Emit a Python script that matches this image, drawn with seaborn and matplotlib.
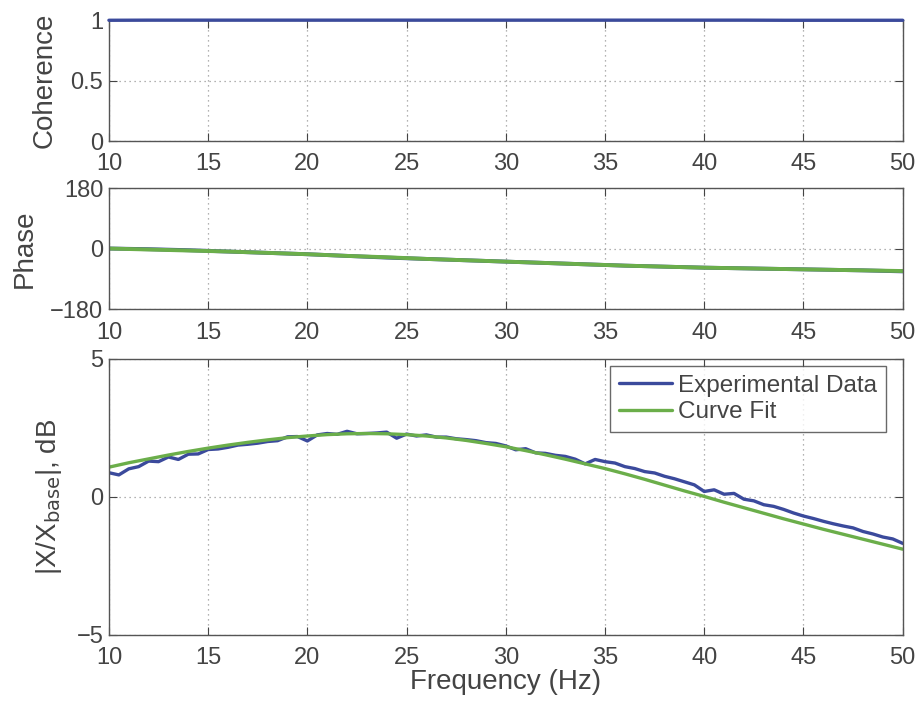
import matplotlib
matplotlib.use("Agg")
import matplotlib.pyplot as plt
import seaborn as sns
import pandas as pd

# coherence (experimental only)
freq_coh = [10, 12, 14, 16, 18, 20, 22, 24, 26, 28, 30, 32, 34, 36, 38, 40, 42, 44, 46, 48, 50]
coherence = [0.998, 0.999, 0.999, 0.999, 0.999, 0.999, 0.999, 0.999, 0.999, 0.999, 0.999,
             0.999, 0.999, 0.999, 0.999, 0.999, 0.999, 0.998, 0.998, 0.998, 0.998]

# phase, deg
freq_ph = [10, 12, 14, 16, 18, 20, 22, 24, 26, 28, 30, 32, 34, 36, 38, 40, 42, 44, 46, 48, 50]
phase_exp = [0, -2, -5, -9, -13, -17, -22, -27, -31, -35, -39, -43, -47, -51, -54, -57, -59, -61, -63, -65, -68]
phase_fit = [0, -3, -6, -9, -13, -17, -22, -26, -31, -35, -39, -43, -47, -51, -54, -57, -59, -61, -63, -65, -67]

# magnitude, dB
freq_exp = [10.0, 10.5, 11.0, 11.5, 12.0, 12.5, 13.0, 13.5, 14.0, 14.5,
            15.0, 15.5, 16.0, 16.5, 17.0, 17.5, 18.0, 18.5, 19.0, 19.5,
            20.0, 20.5, 21.0, 21.5, 22.0, 22.5, 23.0, 23.5, 24.0, 24.5,
            25.0, 25.5, 26.0, 26.5, 27.0, 27.5, 28.0, 28.5, 29.0, 29.5,
            30.0, 30.5, 31.0, 31.5, 32.0, 32.5, 33.0, 33.5, 34.0, 34.5,
            35.0, 35.5, 36.0, 36.5, 37.0, 37.5, 38.0, 38.5, 39.0, 39.5,
            40.0, 40.5, 41.0, 41.5, 42.0, 42.5, 43.0, 43.5, 44.0, 44.5,
            45.0, 45.5, 46.0, 46.5, 47.0, 47.5, 48.0, 48.5, 49.0, 49.5, 50.0]
mag_exp = [0.88, 0.80, 1.02, 1.10, 1.30, 1.28, 1.45, 1.36, 1.55, 1.56,
           1.72, 1.74, 1.80, 1.88, 1.91, 1.95, 2.01, 2.04, 2.18, 2.19,
           2.03, 2.25, 2.30, 2.27, 2.38, 2.29, 2.30, 2.32, 2.35, 2.13,
           2.28, 2.21, 2.25, 2.17, 2.17, 2.11, 2.08, 2.04, 1.97, 1.94,
           1.85, 1.71, 1.75, 1.60, 1.58, 1.51, 1.47, 1.37, 1.20, 1.36,
           1.28, 1.23, 1.10, 1.03, 0.92, 0.87, 0.75, 0.66, 0.55, 0.44,
           0.20, 0.26, 0.10, 0.13, -0.08, -0.14, -0.28, -0.34, -0.45, -0.58,
           -0.69, -0.78, -0.88, -0.97, -1.05, -1.12, -1.25, -1.34, -1.45, -1.52, -1.68]

freq_fit = [10, 11, 12, 13, 14, 15, 16, 17, 18, 19, 20, 21, 22, 23, 24, 25, 26, 27, 28, 29,
            30, 31, 32, 33, 34, 35, 36, 37, 38, 39, 40, 41, 42, 43, 44, 45, 46, 47, 48, 49, 50]
mag_fit = [1.08, 1.24, 1.38, 1.52, 1.65, 1.77, 1.88, 1.98, 2.07, 2.15, 2.21, 2.26, 2.29, 2.30,
           2.29, 2.26, 2.21, 2.14, 2.05, 1.94, 1.82, 1.68, 1.53, 1.37, 1.20, 1.03, 0.84, 0.64,
           0.43, 0.22, 0.02, -0.19, -0.39, -0.59, -0.79, -0.98, -1.17, -1.35, -1.53, -1.71, -1.89]

blue = "#3b4a9c"
green = "#6bae4a"
grey = "#444444"

sns.set_style("ticks")
plt.rcParams["font.family"] = ["Liberation Sans", "DejaVu Sans"]
plt.rcParams.update({
    "text.color": grey, "axes.labelcolor": grey,
    "xtick.color": grey, "ytick.color": grey,
    "axes.edgecolor": "#555555", "axes.linewidth": 1.0,
    "xtick.direction": "in", "ytick.direction": "in",
    "xtick.top": True, "ytick.right": True,
    "xtick.major.size": 6, "ytick.major.size": 6,
})

fig = plt.figure(figsize=(9.23, 7.05), dpi=100)
ax1 = fig.add_axes([0.118, 0.800, 0.860, 0.1716])
ax2 = fig.add_axes([0.118, 0.5617, 0.860, 0.1716])
ax3 = fig.add_axes([0.118, 0.0993, 0.860, 0.3915])

coh = pd.DataFrame({"f": freq_coh, "c": coherence})
sns.lineplot(data=coh, x="f", y="c", ax=ax1, color=blue, linewidth=2.4, clip_on=False, zorder=5)

ph = pd.DataFrame({"f": freq_ph, "exp": phase_exp, "fit": phase_fit})
sns.lineplot(data=ph, x="f", y="exp", ax=ax2, color=blue, linewidth=2.8)
sns.lineplot(data=ph, x="f", y="fit", ax=ax2, color=green, linewidth=2.8)

me = pd.DataFrame({"f": freq_exp, "m": mag_exp})
mf = pd.DataFrame({"f": freq_fit, "m": mag_fit})
sns.lineplot(data=me, x="f", y="m", ax=ax3, color=blue, linewidth=2.4, label="Experimental Data")
sns.lineplot(data=mf, x="f", y="m", ax=ax3, color=green, linewidth=2.4, label="Curve Fit")

settings = [
    (ax1, (0, 1), [0, 0.5, 1], ["0", "0.5", "1"], "Coherence"),
    (ax2, (-180, 180), [-180, 0, 180], ["\u2212180", "0", "180"], "Phase"),
    (ax3, (-5, 5), [-5, 0, 5], ["\u22125", "0", "5"], r"|X/X$_{\mathrm{base}}$|, dB"),
]
for ax, lim, yt, ytl, lab in settings:
    ax.set_xlim(10, 50)
    ax.set_ylim(*lim)
    ax.set_xticks(range(10, 51, 5))
    ax.set_yticks(yt)
    ax.set_yticklabels(ytl)
    ax.tick_params(labelsize=17)
    ax.tick_params(axis="x", pad=9)
    ax.tick_params(axis="y", pad=4)
    ax.grid(True, linestyle=(0, (1, 3)), color="#999999", linewidth=0.9)
    ax.set_ylabel(lab, fontsize=20, labelpad=9)
    ax.set_xlabel("")

ax3.set_xlabel("Frequency (Hz)", fontsize=20, labelpad=0)

leg = ax3.legend(loc="upper right", bbox_to_anchor=(0.9786, 0.9746), borderaxespad=0,
                 fontsize=17.5, frameon=True, fancybox=False,
                 handlelength=2.2, handletextpad=0.25, labelspacing=0.2, borderpad=0.35)
leg.get_frame().set_edgecolor("#444444")
leg.get_frame().set_linewidth(1.0)

fig.savefig("out.png", dpi=100)
